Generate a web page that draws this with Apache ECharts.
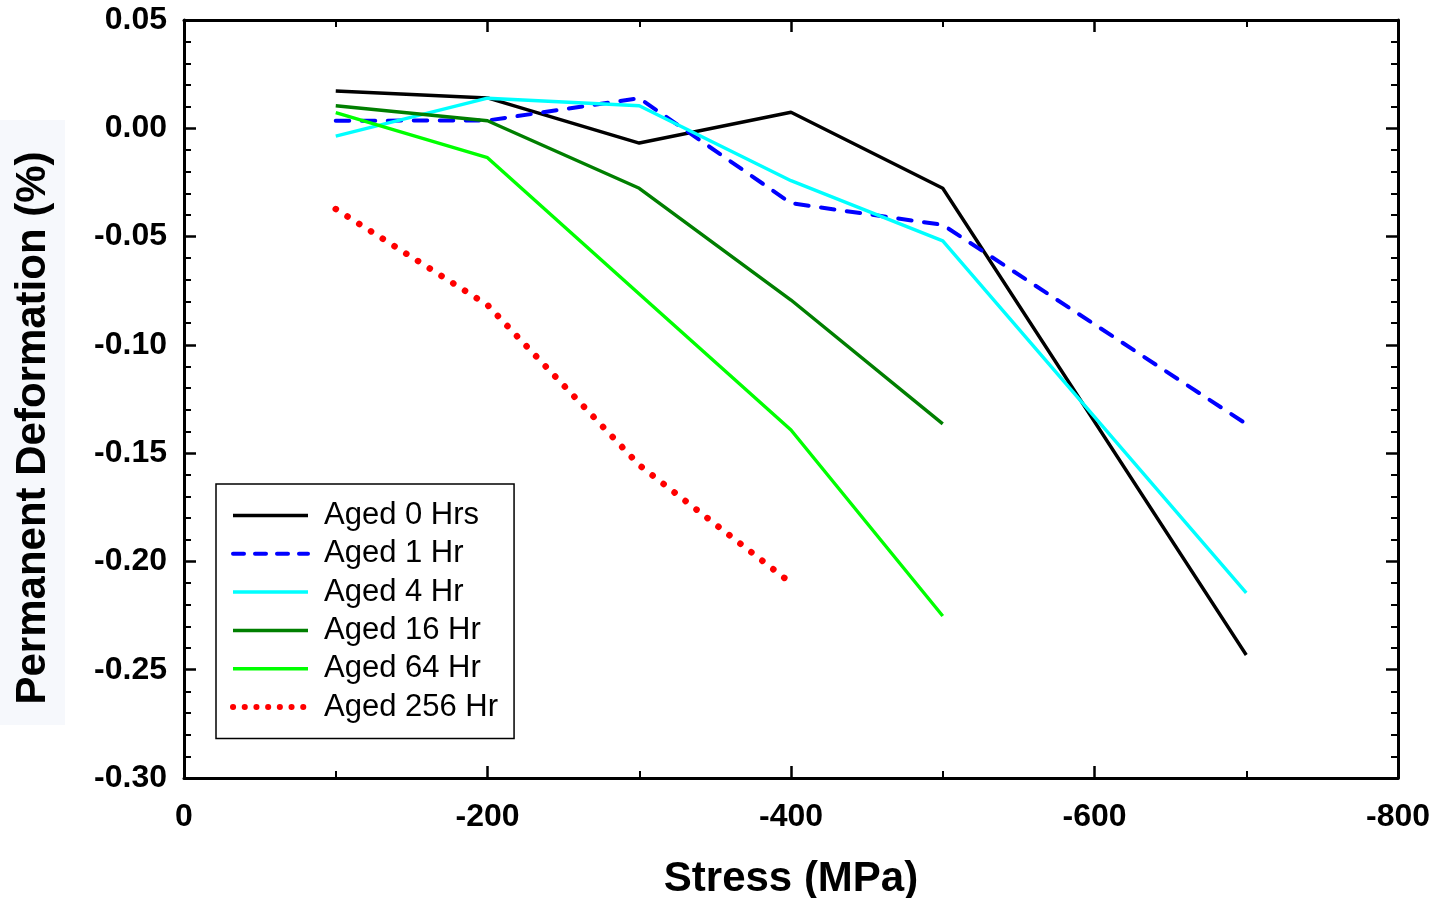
<!DOCTYPE html>
<html><head><meta charset="utf-8">
<script src="https://cdn.jsdelivr.net/npm/echarts@6/dist/echarts.min.js"></script>
<style>html,body{margin:0;padding:0;background:#fff}#c{width:1441px;height:898px}</style>
</head><body><div id="c"></div>
<script>
const stress = [-100, -200, -300, -400, -500, -700];
const aged0 = [0.0172, 0.0140, -0.0068, 0.0074, -0.0277, -0.2432];
const aged1 = [0.0035, 0.0036, 0.0139, -0.0346, -0.0446, -0.1365];
const aged4 = [-0.0036, 0.0139, 0.0104, -0.0242, -0.0520, -0.2145];
const aged16 = [0.0104, 0.0035, -0.0277, -0.0793, -0.1365];
const aged64 = [0.0072, -0.0136, -0.0765, -0.1393, -0.2252];
const aged256 = [-0.0373, -0.0816, -0.1555, -0.2100];
const xTicks = [0, -200, -400, -600, -800];
const yTicks = [0.05, 0.00, -0.05, -0.10, -0.15, -0.20, -0.25, -0.30];

const FONT = '"Liberation Sans", Arial, sans-serif';
function pts(vals){ return vals.map((v,i)=>[stress[i], v]); }
const seriesDefs = [
  {name:'Aged 0 Hrs', data:aged0, color:'#000000', type:'solid', width:3.4, lw:3.5, ltype:'solid'},
  {name:'Aged 1 Hr', data:aged1, color:'#0000ff', type:[13.5,12.5], width:4, cap:'round', lw:4, ltype:[11,11]},
  {name:'Aged 4 Hr', data:aged4, color:'#00ffff', type:'solid', width:3.4, lw:3.5, ltype:'solid'},
  {name:'Aged 16 Hr', data:aged16, color:'#007f00', type:'solid', width:3.4, lw:3.5, ltype:'solid'},
  {name:'Aged 64 Hr', data:aged64, color:'#00ff00', type:'solid', width:3.4, lw:3.5, ltype:'solid'},
  {name:'Aged 256 Hr', data:aged256, color:'#ff0000', type:[0.1,13.8], width:6.5, cap:'round', lw:6, ltype:[0.1,11.6]}
];
const axisLine = {show:true, onZero:false, lineStyle:{color:'#000', width:3}};
const axisTick = {show:true, inside:true, length:12, lineStyle:{color:'#000', width:2.5}};
const minorTickY = {show:true, splitNumber:5, length:7, lineStyle:{color:'#000', width:2}};
const minorTickX = {show:true, splitNumber:2, length:7, lineStyle:{color:'#000', width:2}};
const labelStyle = {fontFamily:FONT, fontWeight:'bold', fontSize:32, color:'#000'};

const chart = echarts.init(document.getElementById('c'), null, {renderer:'canvas'});
chart.setOption({
  animation:false,
  backgroundColor:'#fff',
  graphic:[
    {type:'rect', left:0, top:120, shape:{width:65, height:605}, style:{fill:'#f6f8fc'}, z:-10},
    {type:'text', x:33, y:428, rotation:Math.PI/2,
     style:{text:'Permanent Deformation (%)', fontFamily:FONT, fontWeight:'bold', fontSize:42,
            fill:'#000', align:'center', verticalAlign:'middle'}}
  ],
  grid:{left:184, right:43, top:20, bottom:120, outerBoundsMode:'none', containLabel:false},
  xAxis:[
    {type:'value', min:-800, max:0, interval:200, inverse:true, position:'bottom',
     name:'Stress (MPa)', nameLocation:'middle', nameGap:80,
     nameTextStyle:{fontFamily:FONT, fontWeight:'bold', fontSize:42, color:'#000'},
     axisLine:axisLine, axisTick:axisTick, minorTick:minorTickX, splitLine:{show:false},
     axisLabel:Object.assign({margin:23, formatter:v=>xTicks.includes(v)? String(v):''}, labelStyle)},
    {type:'value', min:-800, max:0, interval:200, inverse:true, position:'top',
     axisLine:axisLine, axisTick:axisTick, minorTick:minorTickX, splitLine:{show:false},
     axisLabel:{show:false}}
  ],
  yAxis:[
    {type:'value', min:-0.3, max:0.05, interval:0.05, position:'left',
     axisLine:axisLine, axisTick:axisTick, minorTick:minorTickY, splitLine:{show:false},
     axisLabel:Object.assign({margin:17, formatter:v=>v.toFixed(2)}, labelStyle)},
    {type:'value', min:-0.3, max:0.05, interval:0.05, position:'right',
     axisLine:axisLine, axisTick:axisTick, minorTick:minorTickY, splitLine:{show:false},
     axisLabel:{show:false}}
  ],
  legend:{
    orient:'vertical', left:216, top:484,
    backgroundColor:'#fff', borderColor:'#000', borderWidth:1.5,
    padding:[16,16,16,14], itemWidth:75, itemHeight:1, itemGap:7.3,
    itemStyle:{opacity:0},
    textStyle:{fontFamily:FONT, fontSize:31, color:'#000', lineHeight:31, padding:[0,0,0,11]},
    data:seriesDefs.map(s=>({name:s.name,
      lineStyle:{color:s.color, width:s.lw, type:s.ltype, cap:s.cap||'butt'}}))
  },
  series:seriesDefs.map(s=>({
    name:s.name, type:'line', data:pts(s.data), showSymbol:false, symbol:'none',
    color:s.color,
    lineStyle:{color:s.color, width:s.width, type:s.type, cap:s.cap||'butt'},
    z:2
  }))
});
</script></body></html>
